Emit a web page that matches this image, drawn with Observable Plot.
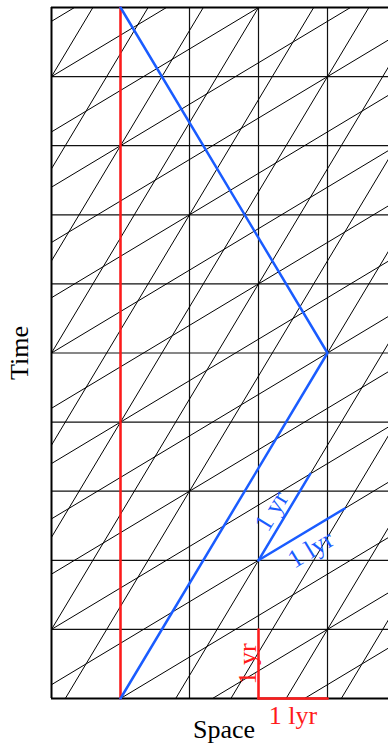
<!DOCTYPE html>
<html>
<head>
<meta charset="utf-8">
<script src="https://cdn.jsdelivr.net/npm/d3@7"></script>
<script src="https://cdn.jsdelivr.net/npm/@observablehq/plot@0.6"></script>
<style>
  html, body { margin: 0; padding: 0; background: #fff; }
  svg { display: block; }
</style>
</head>
<body>
<div id="chart"></div>
<script>
// ---- data ----
const spaceTicks = [0, 1, 2, 3, 4];
const timeTicks = [0, 1, 2, 3, 4, 5, 6, 7, 8, 9, 10];
const velocity = 0.6;                 // speed of the moving frame (c = 1)
const frameOrigin = [1, 0];           // event where the moving frame starts (x, t)
const movingSpaceLines = [-8, -7, -6, -5, -4, -3, -2, -1, 0, 1, 2, 3, 4];          // x' = const
const movingTimeLines = [-2, -1, 0, 1, 2, 3, 4, 5, 6, 7, 8, 9, 10, 11, 12, 13];   // t' = const

const restX = [1, 1];       const restT = [0, 10];        // red stationary worldline
const travelX = [1, 4, 1];  const travelT = [0, 5, 10];   // blue traveller worldline
const redYrX = [3, 3];      const redYrT = [0, 1];        // red "1 yr"
const redLyrX = [3, 4];     const redLyrT = [0, 0];       // red "1 lyr"
const blueYrX = [3, 3.75];  const blueYrT = [2, 3.25];    // blue "1 yr"
const blueLyrX = [3, 4.25]; const blueLyrT = [2, 2.75];   // blue "1 lyr"

const xMax = 4.884, tMin = 0, tMax = 10;

// ---- build tables ----
const gamma = 1 / Math.sqrt(1 - velocity * velocity);
const diag = [];
for (const k of movingSpaceLines) {
  const x0 = frameOrigin[0] + k / gamma;
  diag.push({x1: x0 + velocity * tMin, y1: tMin, x2: x0 + velocity * tMax, y2: tMax});
}
for (const m of movingTimeLines) {
  const t0 = m / gamma;
  diag.push({x1: 0, y1: t0 + velocity * (0 - frameOrigin[0]), x2: xMax, y2: t0 + velocity * (xMax - frameOrigin[0])});
}
const pts = (xs, ts) => xs.map((x, i) => ({x, t: ts[i]}));

const RED = "#ff1a1a", BLUE = "#1a5cff";
const FONT = "Liberation Serif, Times New Roman, serif";

const chart = Plot.plot({
  width: 388,
  height: 743,
  marginLeft: 51,
  marginRight: 0,
  marginTop: 7,
  marginBottom: 45,
  style: {fontFamily: FONT, background: "#fff", overflow: "visible"},
  x: {domain: [0, xMax], axis: null},
  y: {domain: [tMin, tMax], axis: null},
  marks: [
    Plot.ruleY(timeTicks.filter(t => t > tMin && t < tMax), {stroke: "#111", strokeWidth: 1.2}),
    Plot.ruleX(spaceTicks.filter(x => x > 0), {stroke: "#111", strokeWidth: 1.2}),
    Plot.link(diag, {x1: "x1", y1: "y1", x2: "x2", y2: "y2", stroke: "#000", strokeWidth: 1, clip: true}),
    Plot.ruleY([tMin, tMax], {stroke: "#000", strokeWidth: 2}),
    Plot.ruleX([0], {stroke: "#000", strokeWidth: 2}),
    Plot.line(pts(restX, restT), {x: "x", y: "t", stroke: RED, strokeWidth: 2.5}),
    Plot.line(pts(redYrX, redYrT), {x: "x", y: "t", stroke: RED, strokeWidth: 2.5}),
    Plot.line(pts(redLyrX, redLyrT), {x: "x", y: "t", stroke: RED, strokeWidth: 2.5}),
    Plot.line(pts(travelX, travelT), {x: "x", y: "t", stroke: BLUE, strokeWidth: 2.5}),
    Plot.line(pts(blueYrX, blueYrT), {x: "x", y: "t", stroke: BLUE, strokeWidth: 2.5}),
    Plot.line(pts(blueLyrX, blueLyrT), {x: "x", y: "t", stroke: BLUE, strokeWidth: 2.5}),
    // labels
    Plot.text(["1 lyr"], {x: (redLyrX[0] + redLyrX[1]) / 2, y: redLyrT[0], dy: 17, fill: RED, fontSize: 26}),
    Plot.text(["1 yr"], {x: redYrX[0], y: (redYrT[0] + redYrT[1]) / 2, dx: -11, rotate: -90, fill: RED, fontSize: 26}),
    Plot.text(["1 yr"], {x: (blueYrX[0] + blueYrX[1]) / 2, y: (blueYrT[0] + blueYrT[1]) / 2, dx: -13, dy: -6, rotate: -59, fill: BLUE, fontSize: 26}),
    Plot.text(["1 lyr"], {x: (blueLyrX[0] + blueLyrX[1]) / 2, y: (blueLyrT[0] + blueLyrT[1]) / 2, dx: 9, dy: 15, rotate: -31, fill: BLUE, fontSize: 26}),
    Plot.text(["Space"], {x: 2.5, y: tMin, dy: 31, fill: "#000", fontSize: 26}),
    Plot.text(["Time"], {x: 0, y: (tMin + tMax) / 2, dx: -32, rotate: -90, fill: "#000", fontSize: 26})
  ]
});
document.getElementById("chart").appendChild(chart);
</script>
</body>
</html>
